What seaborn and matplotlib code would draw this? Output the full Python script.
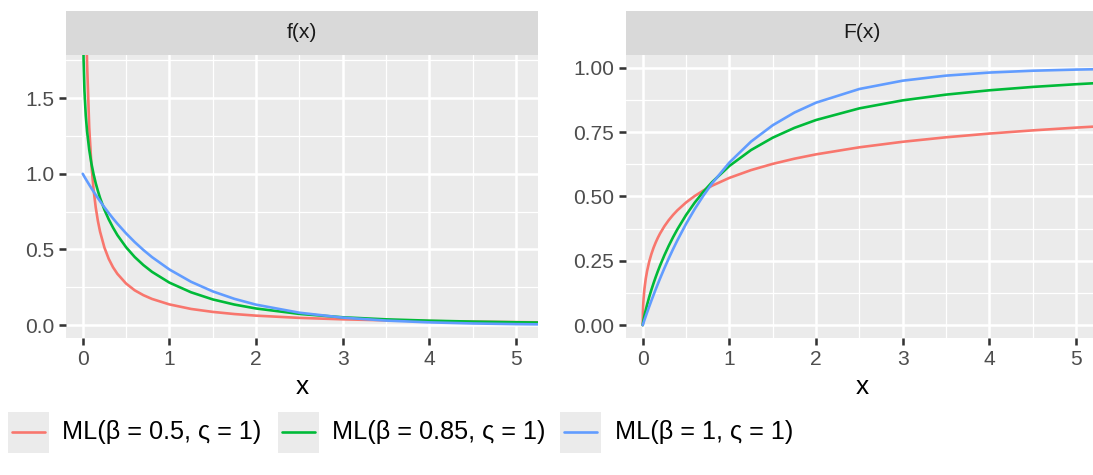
import numpy as np
import pandas as pd
import matplotlib
matplotlib.use("Agg")
import matplotlib.pyplot as plt
import seaborn as sns
from matplotlib.patches import Rectangle
from matplotlib.lines import Line2D
from matplotlib.ticker import FixedLocator, FixedFormatter

# ---------------- data ----------------
x_vals = [0, 0.002, 0.005, 0.01, 0.02, 0.035, 0.05, 0.075, 0.1, 0.125, 0.15,
          0.175, 0.2, 0.25, 0.3, 0.35, 0.4, 0.5, 0.6, 0.7, 0.8, 1.0, 1.25, 1.5,
          1.75, 2.0, 2.5, 3.0, 3.5, 4.0, 4.5, 5.0, 5.25]

dens_b05 = [np.nan, 11.66, 7.05, 4.75, 3.13, 2.20, 1.733, 1.307, 1.061, 0.8965,
            0.778, 0.6886, 0.618, 0.513, 0.438, 0.3821, 0.339, 0.275, 0.230,
            0.198, 0.173, 0.137, 0.107, 0.0875, 0.0733, 0.0627, 0.0480, 0.0384,
            0.0317, 0.0267, 0.0229, 0.0200, 0.0187]
cdf_b05 = [0, 0.0485, 0.0750, 0.1035, 0.1415, 0.1805, 0.2096, 0.2471, 0.2764,
           0.3008, 0.3216, 0.3399, 0.3562, 0.3843, 0.4080, 0.4284, 0.4464,
           0.4768, 0.5020, 0.5233, 0.5418, 0.5724, 0.6026, 0.6268, 0.6469,
           0.6638, 0.6912, 0.7127, 0.7301, 0.7446, 0.7570, 0.7677, 0.7725]

dens_b085 = [np.nan, 2.270, 1.964, 1.751, 1.547, 1.385, 1.281, 1.159, 1.069,
             0.998, 0.938, 0.887, 0.841, 0.763, 0.699, 0.644, 0.595, 0.515,
             0.450, 0.397, 0.352, 0.281, 0.217, 0.170, 0.136, 0.110, 0.0742,
             0.0519, 0.0383, 0.0295, 0.0234, 0.0190, 0.0172]
cdf_b085 = [0, 0.0054, 0.0116, 0.0209, 0.0372, 0.0591, 0.0790, 0.1095, 0.1372,
            0.1630, 0.1872, 0.2100, 0.2316, 0.2716, 0.3082, 0.3417, 0.3726,
            0.4280, 0.4762, 0.5185, 0.5558, 0.6188, 0.6806, 0.7286, 0.7667,
            0.7973, 0.8426, 0.8737, 0.8960, 0.9128, 0.9259, 0.9364, 0.9410]

dens_b1 = [1.0, 0.998, 0.995, 0.990, 0.980, 0.9656, 0.9512, 0.9277, 0.9048,
           0.8825, 0.8607, 0.8395, 0.8187, 0.7788, 0.7408, 0.7047, 0.6703,
           0.6065, 0.5488, 0.4966, 0.4493, 0.3679, 0.2865, 0.2231, 0.1738,
           0.1353, 0.0821, 0.0498, 0.0302, 0.0183, 0.0111, 0.0067, 0.0052]
cdf_b1 = [0, 0.002, 0.005, 0.010, 0.020, 0.0344, 0.0488, 0.0723, 0.0952, 0.1175,
          0.1393, 0.1605, 0.1813, 0.2212, 0.2592, 0.2953, 0.3297, 0.3935,
          0.4512, 0.5034, 0.5507, 0.6321, 0.7135, 0.7769, 0.8262, 0.8647,
          0.9179, 0.9502, 0.9698, 0.9817, 0.9889, 0.9933, 0.9948]

series_labels = ["ML(β = 0.5, ς = 1)", "ML(β = 0.85, ς = 1)", "ML(β = 1, ς = 1)"]
series_colors = ["#F8766D", "#00BA38", "#619CFF"]
panel_titles = ["f(x)", "F(x)"]
x_ticks = [0, 1, 2, 3, 4, 5]
y_ticks_f = [0.0, 0.5, 1.0, 1.5]
y_ticks_F = [0.0, 0.25, 0.5, 0.75, 1.0]

n = len(x_vals)
df = pd.DataFrame({
    "x": x_vals * 3,
    "f": dens_b05 + dens_b085 + dens_b1,
    "F": cdf_b05 + cdf_b085 + cdf_b1,
    "dist": [series_labels[0]] * n + [series_labels[1]] * n + [series_labels[2]] * n,
})

# ---------------- styling ----------------
sns.set_theme(style="white")
plt.rcParams["font.family"] = ["Liberation Sans", "DejaVu Sans"]

DPI = 172
W, H = 1093, 475
fig = plt.figure(figsize=(W / DPI, H / DPI), dpi=DPI)
fig.patch.set_facecolor("white")

def px_axes(l, t, r, b):
    return fig.add_axes([l / W, (H - b) / H, (r - l) / W, (b - t) / H])

LW = 1.1
palette = dict(zip(series_labels, series_colors))

panels = [
    dict(box=(66, 55, 538, 338), strip=(66, 11, 538, 55), y="f",
         ylim=(-0.085, 1.785), yt=y_ticks_f, ylab=["0.0", "0.5", "1.0", "1.5"],
         yminor=[0.25, 0.75, 1.25, 1.75]),
    dict(box=(626, 55, 1098, 338), strip=(626, 11, 1098, 55), y="F",
         ylim=(-0.05, 1.05), yt=y_ticks_F, ylab=["0.00", "0.25", "0.50", "0.75", "1.00"],
         yminor=[0.125, 0.375, 0.625, 0.875]),
]

for p, title in zip(panels, panel_titles):
    ax = px_axes(*p["box"])
    ax.set_facecolor("#EBEBEB")
    sns.lineplot(data=df, x="x", y=p["y"], hue="dist", hue_order=series_labels,
                 palette=palette, estimator=None, sort=True, legend=False,
                 linewidth=LW, ax=ax)
    ax.set_xlim(-0.193, 5.254)
    ax.set_ylim(*p["ylim"])
    ax.xaxis.set_major_locator(FixedLocator(x_ticks))
    ax.xaxis.set_major_formatter(FixedFormatter([str(v) for v in x_ticks]))
    ax.xaxis.set_minor_locator(FixedLocator([0.5, 1.5, 2.5, 3.5, 4.5]))
    ax.yaxis.set_major_locator(FixedLocator(p["yt"]))
    ax.yaxis.set_major_formatter(FixedFormatter(p["ylab"]))
    ax.yaxis.set_minor_locator(FixedLocator(p["yminor"]))
    ax.grid(which="major", color="white", linewidth=1.07)
    ax.grid(which="minor", color="white", linewidth=0.535)
    ax.set_axisbelow(True)
    for s in ax.spines.values():
        s.set_visible(False)
    ax.tick_params(which="major", direction="out", length=2.75, width=1.07,
                   color="#333333", labelsize=8.8, labelcolor="#4D4D4D", pad=2.2,
                   bottom=True, left=True)
    ax.tick_params(which="minor", length=0)
    ax.set_xlabel("x", fontsize=11, color="black", labelpad=2.75)
    ax.set_ylabel("")

    sa = px_axes(*p["strip"])
    sa.set_facecolor("#D9D9D9")
    sa.set_xticks([])
    sa.set_yticks([])
    for s in sa.spines.values():
        s.set_visible(False)
    sl, st, sr, sb = p["strip"]
    fig.text(((sl + sr) / 2) / W, (H - (st + sb) / 2) / H, title, ha="center",
             va="center", fontsize=8.8, color="#1A1A1A")

# ---------------- legend (bottom) ----------------
key_left = [8, 278, 560]
text_left = [62, 332, 615]
key_w, key_h = 41, 41
key_cy = 432
for kl, tl, lab, col in zip(key_left, text_left, series_labels, series_colors):
    fig.patches.append(Rectangle((kl / W, (H - key_cy - key_h / 2) / H), key_w / W,
                                 key_h / H, transform=fig.transFigure,
                                 facecolor="#EBEBEB", edgecolor="none"))
    fig.lines.append(Line2D([(kl + 0.1 * key_w) / W, (kl + 0.9 * key_w) / W],
                            [(H - key_cy) / H] * 2, transform=fig.transFigure,
                            color=col, linewidth=LW))
    fig.text(tl / W, (H - key_cy) / H, lab, ha="left", va="center",
             fontsize=10.6, color="black")

fig.savefig("out.png", dpi=DPI)
